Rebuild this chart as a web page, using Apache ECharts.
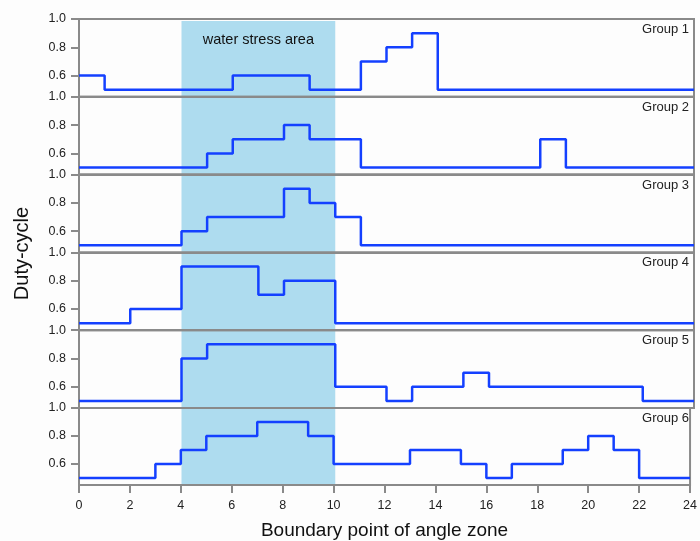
<!DOCTYPE html>
<html>
<head>
<meta charset="utf-8">
<script src="https://cdn.jsdelivr.net/npm/echarts@6/dist/echarts.min.js"></script>
<style>
  html, body { margin: 0; padding: 0; background: #fdfdfd; }
  #main { width: 700px; height: 541px; }
</style>
</head>
<body>
<div id="main"></div>
<script>
// 每段角度区间的占空比 (0-1, 1-2, ... 23-24)
var xTicks = [0, 2, 4, 6, 8, 10, 12, 14, 16, 18, 20, 22, 24]
var yTicks = [0.6, 0.8, 1.0]
var groupNames = ['Group 1', 'Group 2', 'Group 3', 'Group 4', 'Group 5', 'Group 6']
var stressArea = [4, 10]

var group1 = [0.6, 0.5, 0.5, 0.5, 0.5, 0.5, 0.6, 0.6, 0.6, 0.5, 0.5, 0.7, 0.8, 0.9, 0.5, 0.5, 0.5, 0.5, 0.5, 0.5, 0.5, 0.5, 0.5, 0.5]
var group2 = [0.5, 0.5, 0.5, 0.5, 0.5, 0.6, 0.7, 0.7, 0.8, 0.7, 0.7, 0.5, 0.5, 0.5, 0.5, 0.5, 0.5, 0.5, 0.7, 0.5, 0.5, 0.5, 0.5, 0.5]
var group3 = [0.5, 0.5, 0.5, 0.5, 0.6, 0.7, 0.7, 0.7, 0.9, 0.8, 0.7, 0.5, 0.5, 0.5, 0.5, 0.5, 0.5, 0.5, 0.5, 0.5, 0.5, 0.5, 0.5, 0.5]
var group4 = [0.5, 0.5, 0.6, 0.6, 0.9, 0.9, 0.9, 0.7, 0.8, 0.8, 0.5, 0.5, 0.5, 0.5, 0.5, 0.5, 0.5, 0.5, 0.5, 0.5, 0.5, 0.5, 0.5, 0.5]
var group5 = [0.5, 0.5, 0.5, 0.5, 0.8, 0.9, 0.9, 0.9, 0.9, 0.9, 0.6, 0.6, 0.5, 0.6, 0.6, 0.7, 0.6, 0.6, 0.6, 0.6, 0.6, 0.6, 0.5, 0.5]
var group6 = [0.5, 0.5, 0.5, 0.6, 0.7, 0.8, 0.8, 0.9, 0.9, 0.8, 0.6, 0.6, 0.6, 0.7, 0.7, 0.6, 0.5, 0.6, 0.6, 0.7, 0.8, 0.7, 0.5, 0.5]
var groups = [group1, group2, group3, group4, group5, group6]

var myChart = echarts.init(document.getElementById('main'))
var option

var panelTop = 19
var panelH = 77.8
var gray = '#8a8a8a'
var font = 'Liberation Sans, Arial, sans-serif'

// 阶梯线数据: 每段起点 + 终点
function stepData(arr) {
  var d = arr.map(function(v, i) { return [i, v] })
  d.push([arr.length, arr[arr.length - 1]])
  return d
}

var grid = []
var xAxis = []
var yAxis = []
var series = []
var title = []

groups.forEach(function(g, i) {
  var last = i === groups.length - 1
  grid.push({
    left: 79,
    right: 6,
    top: panelTop + i * panelH,
    height: panelH,
    show: true,
    z: 3,
    borderColor: gray,
    borderWidth: 2,
    backgroundColor: 'transparent'
  })
  xAxis.push({
    gridIndex: i,
    type: 'value',
    min: 0,
    max: 24,
    interval: 2,
    z: 3,
    axisLine: { show: true, onZero: false, lineStyle: { color: gray, width: 2 } },
    axisTick: { show: last, length: 8, lineStyle: { color: gray, width: 2 } },
    axisLabel: { show: last, margin: 14, fontSize: 12.5, color: '#222', fontFamily: font },
    splitLine: { show: false },
    name: last ? 'Boundary point of angle zone' : '',
    nameLocation: 'middle',
    nameGap: 36,
    nameTextStyle: { fontSize: 19, color: '#111', fontFamily: font }
  })
  yAxis.push({
    gridIndex: i,
    type: 'value',
    min: 0.45,
    max: 1.0,
    z: 3,
    axisLine: { show: true, onZero: false, lineStyle: { color: gray, width: 2 } },
    axisTick: { show: true, length: 8, customValues: yTicks, lineStyle: { color: gray, width: 2 } },
    axisLabel: {
      customValues: yTicks,
      margin: 13,
      fontSize: 12.5,
      color: '#222',
      fontFamily: font,
      formatter: function(v) { return v.toFixed(1) }
    },
    splitLine: { show: false }
  })
  series.push({
    name: groupNames[i],
    type: 'line',
    xAxisIndex: i,
    yAxisIndex: i,
    step: 'end',
    symbol: 'none',
    z: 4,
    lineStyle: { color: '#1440ff', width: 2.5 },
    data: stepData(g)
  })
  title.push({
    text: groupNames[i],
    right: 11,
    top: panelTop + i * panelH + 4,
    padding: 0,
    textStyle: { fontSize: 13, fontWeight: 'normal', color: '#222', fontFamily: font }
  })
})

// 背景网格: 水分胁迫区阴影 + 纵轴名称
grid.push({ left: 79, right: 6, top: 21, bottom: 55, z: 0 })
xAxis.push({ gridIndex: 6, type: 'value', min: 0, max: 24, show: false })
yAxis.push({
  gridIndex: 6,
  type: 'value',
  min: 0,
  max: 1,
  axisLine: { show: false },
  axisTick: { show: false },
  axisLabel: { show: false },
  splitLine: { show: false },
  name: 'Duty-cycle',
  nameLocation: 'middle',
  nameGap: 47,
  nameTextStyle: { fontSize: 20, color: '#111', fontFamily: font }
})
series.push({
  type: 'line',
  xAxisIndex: 6,
  yAxisIndex: 6,
  z: 0,
  symbol: 'none',
  lineStyle: { opacity: 0 },
  data: [[stressArea[0], 0]],
  markArea: {
    silent: true,
    z: 0,
    itemStyle: { color: '#aedcef' },
    label: {
      show: true,
      position: 'insideTop',
      distance: 11,
      fontSize: 14.5,
      color: '#111',
      fontFamily: font
    },
    data: [[{ name: 'water stress area', xAxis: stressArea[0] }, { xAxis: stressArea[1] }]]
  }
})

option = {
  backgroundColor: '#fdfdfd',
  animation: false,
  title: title,
  grid: grid,
  xAxis: xAxis,
  yAxis: yAxis,
  series: series
}

option && myChart.setOption(option)
</script>
</body>
</html>
